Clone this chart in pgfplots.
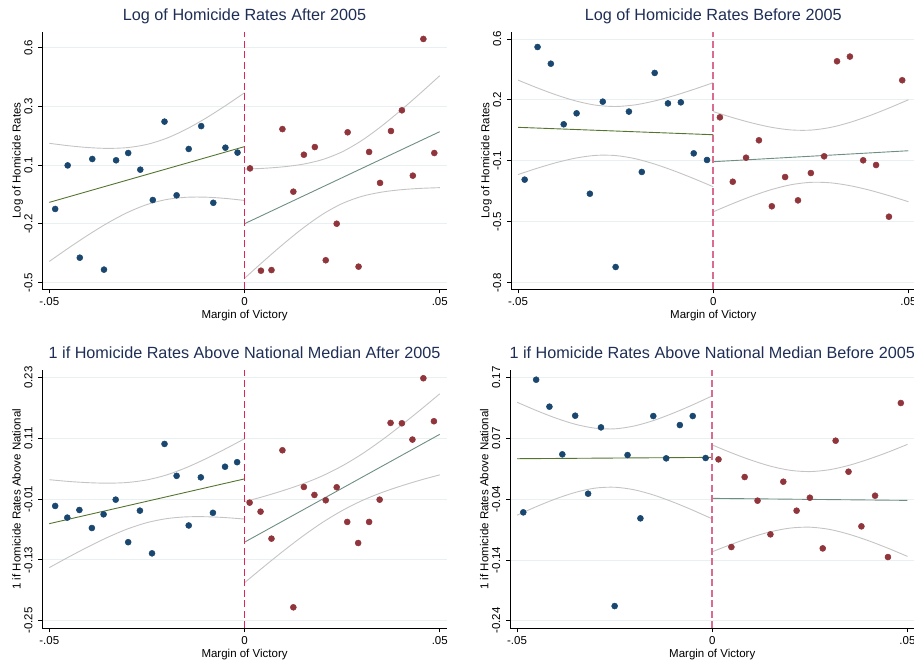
\documentclass[border=0pt]{standalone}
\usepackage{fontspec}
\setmainfont{Liberation Sans}
\usepackage{pgfplots}
\pgfplotsset{compat=1.18}

\definecolor{navy}{RGB}{26,71,111}
\definecolor{maroon}{RGB}{144,53,59}
\definecolor{fgreen}{RGB}{85,117,47}
\definecolor{teal2}{RGB}{110,142,132}
\definecolor{cigray}{RGB}{196,196,196}
\definecolor{gridc}{RGB}{232,240,242}
\definecolor{titlec}{RGB}{30,46,85}
\definecolor{crim}{RGB}{224,36,90}
\definecolor{pinkc}{RGB}{218,108,144}

\pgfplotsset{
 statastyle/.style={
  scale only axis, width=404.5pt,
  xmin=-0.0518, xmax=0.0518,
  scaled x ticks=false, scaled y ticks=false,
  axis x line*=bottom, axis y line*=left,
  axis line style={black, line width=0.9pt},
  tick align=outside, major tick length=4pt,
  tick style={black, line width=0.9pt},
  xtick={-0.05,0,0.05}, xticklabels={-.05,0,.05},
  ymajorgrids, grid style={gridc, line width=0.9pt},
  tick label style={font=\fontsize{11.5}{13}\selectfont, text=black},
  yticklabel style={rotate=90, anchor=south, inner sep=0pt},
  xticklabel style={anchor=north, inner sep=0pt},
  xticklabel shift=4.4pt, yticklabel shift=5.6pt,
  label style={font=\fontsize{11.5}{13}\selectfont},
  xlabel={Margin of Victory},
  xlabel style={at={(axis description cs:0.5,-0.1126)}, anchor=base, inner sep=0pt},
  ylabel style={at={(axis description cs:-0.0534,0.5)}, anchor=base, inner sep=0pt},
  title style={at={(axis description cs:0.5,1.02)}, anchor=base, font=\fontsize{16.2}{18}\selectfont, text=titlec, inner sep=0pt},
  anchor=south west,
 },
 dotL/.style={only marks, mark=*, mark size=3pt, mark options={fill=navy, draw=navy, line width=0.5pt}},
 dotR/.style={only marks, mark=*, mark size=3pt, mark options={fill=maroon, draw=maroon, line width=0.5pt}},
 fitL/.style={fgreen, line width=0.9pt, no marks},
 fitR/.style={teal2, line width=0.9pt, no marks},
 ci/.style={cigray, line width=0.9pt, no marks, smooth},
}

\begin{document}
\begin{tikzpicture}
\useasboundingbox (0pt,0pt) rectangle (914pt,660pt);

% ---------------- Panel 1 ----------------
\begin{axis}[statastyle, at={(42.3pt,370.7pt)}, height=257.6pt,
  ymin=-0.531, ymax=0.675,
  ytick={0.6,0.325,0.05,-0.225,-0.5}, yticklabels={0.6,0.3,0.1,-0.2,-0.5},
  ylabel={Log of Homicide Rates},
  title={Log of Homicide Rates After 2005}]
\addplot[dotL] coordinates {(-0.0485,-0.155) (-0.0453,0.049) (-0.0422,-0.383) (-0.0390,0.079) (-0.0360,-0.439) (-0.0329,0.073) (-0.0298,0.107) (-0.0267,0.029) (-0.0235,-0.113) (-0.0205,0.254) (-0.0174,-0.091) (-0.0143,0.126) (-0.0111,0.233) (-0.0080,-0.126) (-0.0049,0.132) (-0.0018,0.109)};
\addplot[dotR] coordinates {(0.0014,0.035) (0.0042,-0.444) (0.0069,-0.441) (0.0097,0.219) (0.0125,-0.074) (0.0152,0.099) (0.0180,0.135) (0.0208,-0.395) (0.0236,-0.224) (0.0264,0.204) (0.0292,-0.425) (0.0319,0.112) (0.0347,-0.033) (0.0375,0.210) (0.0403,0.307) (0.0431,0.001) (0.0458,0.641) (0.0486,0.107)};
\addplot[ci] coordinates {(-0.050,0.1524) (-0.045,0.1410) (-0.040,0.1325) (-0.035,0.1287) (-0.030,0.1324) (-0.025,0.1472) (-0.020,0.1759) (-0.015,0.2177) (-0.010,0.2692) (-0.005,0.3272) (0,0.3891)};
\addplot[ci] coordinates {(-0.050,-0.4004) (-0.045,-0.3368) (-0.040,-0.2761) (-0.035,-0.2201) (-0.030,-0.1716) (-0.025,-0.1342) (-0.020,-0.1107) (-0.015,-0.1003) (-0.010,-0.0996) (-0.005,-0.1054) (0,-0.1151)};
\addplot[fitL] coordinates {(-0.05,-0.124) (0,0.137)};
\addplot[ci] coordinates {(0,0.0316) (0.005,0.0355) (0.010,0.0425) (0.015,0.0548) (0.020,0.0765) (0.025,0.1126) (0.030,0.1653) (0.035,0.2317) (0.040,0.3066) (0.045,0.3864) (0.050,0.4691)};
\addplot[ci] coordinates {(0,-0.4796) (0.005,-0.3973) (0.010,-0.3181) (0.015,-0.2442) (0.020,-0.1797) (0.025,-0.1296) (0.030,-0.0961) (0.035,-0.0763) (0.040,-0.0650) (0.045,-0.0586) (0.050,-0.0551)};
\addplot[fitR] coordinates {(0,-0.224) (0.05,0.207)};
\addplot[crim, line width=1.6pt, dash pattern=on 7pt off 3.5pt, no marks] coordinates {(0,-0.531) (0,0.675)};
\end{axis}

% ---------------- Panel 2 ----------------
\begin{axis}[statastyle, at={(511.0pt,370.7pt)}, height=257.6pt,
  ymin=-0.838, ymax=0.642,
  ytick={0.6,0.25,-0.1,-0.45,-0.8}, yticklabels={0.6,0.2,-0.1,-0.5,-0.8},
  ylabel={Log of Homicide Rates},
  title={Log of Homicide Rates Before 2005}]
\addplot[dotL] coordinates {(-0.0483,-0.208) (-0.0450,0.554) (-0.0416,0.458) (-0.0383,0.110) (-0.0350,0.173) (-0.0316,-0.289) (-0.0283,0.240) (-0.0250,-0.710) (-0.0216,0.183) (-0.0183,-0.164) (-0.0150,0.405) (-0.0116,0.230) (-0.0083,0.236) (-0.0050,-0.057) (-0.0016,-0.095)};
\addplot[dotR] coordinates {(0.0017,0.150) (0.0050,-0.220) (0.0084,-0.082) (0.0117,0.018) (0.0150,-0.361) (0.0184,-0.193) (0.0217,-0.327) (0.0250,-0.170) (0.0284,-0.074) (0.0317,0.472) (0.0350,0.499) (0.0384,-0.097) (0.0417,-0.124) (0.0450,-0.421) (0.0484,0.363)};
\addplot[ci] coordinates {(-0.050,0.3638) (-0.045,0.3185) (-0.040,0.2771) (-0.035,0.2427) (-0.030,0.2195) (-0.025,0.2122) (-0.020,0.2216) (-0.015,0.2441) (-0.010,0.2748) (-0.005,0.3104) (0,0.3489)};
\addplot[ci] coordinates {(-0.050,-0.1788) (-0.045,-0.1419) (-0.040,-0.1091) (-0.035,-0.0832) (-0.030,-0.0685) (-0.025,-0.0697) (-0.020,-0.0876) (-0.015,-0.1186) (-0.010,-0.1578) (-0.005,-0.2019) (0,-0.2489)};
\addplot[fitL] coordinates {(-0.05,0.0925) (0,0.050)};
\addplot[ci] coordinates {(0,0.1829) (0.005,0.1481) (0.010,0.1171) (0.015,0.0923) (0.020,0.0773) (0.025,0.0765) (0.030,0.0918) (0.035,0.1208) (0.040,0.1591) (0.045,0.2033) (0.050,0.2510)};
\addplot[ci] coordinates {(0,-0.3929) (0.005,-0.3455) (0.010,-0.3019) (0.015,-0.2645) (0.020,-0.2369) (0.025,-0.2235) (0.030,-0.2262) (0.035,-0.2426) (0.040,-0.2683) (0.045,-0.2999) (0.050,-0.3350)};
\addplot[fitR] coordinates {(0,-0.105) (0.05,-0.042)};
\addplot[pinkc, line width=1.6pt, dash pattern=on 7pt off 3.5pt, no marks] coordinates {(0,-0.838) (0,0.642)};
\end{axis}

% ---------------- Panel 3 ----------------
\begin{axis}[statastyle, at={(42.3pt,31.7pt)}, height=258.3pt,
  ymin=-0.265, ymax=0.245,
  ytick={0.23,0.11,-0.01,-0.13,-0.25}, yticklabels={0.23,0.11,-0.01,-0.13,-0.25},
  ylabel={1 if Homicide Rates Above National},
  title={1 if Homicide Rates Above National Median After 2005}]
\addplot[dotL] coordinates {(-0.0485,-0.0235) (-0.0454,-0.0465) (-0.0423,-0.0314) (-0.0391,-0.067) (-0.0361,-0.040) (-0.0330,-0.011) (-0.0298,-0.095) (-0.0268,-0.0327) (-0.0237,-0.117) (-0.0205,0.099) (-0.0174,0.036) (-0.0143,-0.062) (-0.0112,0.033) (-0.0081,-0.037) (-0.0050,0.054) (-0.0019,0.063)};
\addplot[dotR] coordinates {(0.0013,-0.0169) (0.0041,-0.0347) (0.0069,-0.088) (0.0097,0.0865) (0.0125,-0.2236) (0.0152,0.014) (0.0179,-0.0017) (0.0208,-0.0122) (0.0236,0.0135) (0.0263,-0.055) (0.0291,-0.0966) (0.0319,-0.055) (0.0346,-0.011) (0.0374,0.1405) (0.0403,0.1398) (0.0430,0.1076) (0.0458,0.2287) (0.0485,0.1438)};
\addplot[ci] coordinates {(-0.050,0.0284) (-0.045,0.0249) (-0.040,0.0225) (-0.035,0.0215) (-0.030,0.0229) (-0.025,0.0280) (-0.020,0.0377) (-0.015,0.0520) (-0.010,0.0694) (-0.005,0.0888) (0,0.1093)};
\addplot[ci] coordinates {(-0.050,-0.1452) (-0.045,-0.1241) (-0.040,-0.1039) (-0.035,-0.0852) (-0.030,-0.0689) (-0.025,-0.0564) (-0.020,-0.0485) (-0.015,-0.0450) (-0.010,-0.0447) (-0.005,-0.0464) (0,-0.0493)};
\addplot[fitL] coordinates {(-0.05,-0.0584) (0,0.030)};
\addplot[ci] coordinates {(0,-0.0150) (0.005,-0.0045) (0.010,0.0072) (0.015,0.0204) (0.020,0.0362) (0.025,0.0556) (0.030,0.0788) (0.035,0.1056) (0.040,0.1350) (0.045,0.1660) (0.050,0.1980)};
\addplot[ci] coordinates {(0,-0.1750) (0.005,-0.1430) (0.010,-0.1120) (0.015,-0.0826) (0.020,-0.0558) (0.025,-0.0326) (0.030,-0.0132) (0.035,0.0026) (0.040,0.0158) (0.045,0.0275) (0.050,0.0380)};
\addplot[fitR] coordinates {(0,-0.095) (0.05,0.118)};
\addplot[crim, line width=1.6pt, dash pattern=on 7pt off 3.5pt, no marks] coordinates {(0,-0.265) (0,0.245)};
\end{axis}

% ---------------- Panel 4 ----------------
\begin{axis}[statastyle, at={(510.0pt,31.7pt)}, height=258.3pt,
  ymin=-0.2528, ymax=0.183,
  ytick={0.17,0.0675,-0.035,-0.1375,-0.24}, yticklabels={0.17,0.07,-0.04,-0.14,-0.24},
  ylabel={1 if Homicide Rates Above National},
  title={1 if Homicide Rates Above National Median Before 2005}]
\addplot[dotL] coordinates {(-0.0484,-0.0572) (-0.0451,0.1666) (-0.0417,0.1211) (-0.0384,0.0407) (-0.0351,0.1059) (-0.0318,-0.0257) (-0.0285,0.0862) (-0.0250,-0.2153) (-0.0217,0.0395) (-0.0184,-0.0673) (-0.0151,0.1053) (-0.0118,0.0339) (-0.0083,0.0901) (-0.0050,0.1053) (-0.0017,0.0345)};
\addplot[dotR] coordinates {(0.0016,0.0322) (0.0049,-0.1157) (0.0083,0.0024) (0.0116,-0.0375) (0.0149,-0.0943) (0.0182,-0.0055) (0.0216,-0.0544) (0.0250,-0.0325) (0.0283,-0.1180) (0.0316,0.0637) (0.0349,0.0114) (0.0382,-0.0808) (0.0417,-0.0291) (0.0450,-0.1326) (0.0483,0.1273)};
\addplot[ci] coordinates {(-0.050,0.1286) (-0.045,0.1145) (-0.040,0.1017) (-0.035,0.0913) (-0.030,0.0848) (-0.025,0.0837) (-0.020,0.0885) (-0.015,0.0978) (-0.010,0.1102) (-0.005,0.1242) (0,0.1394)};
\addplot[ci] coordinates {(-0.050,-0.0620) (-0.045,-0.0474) (-0.040,-0.0342) (-0.035,-0.0234) (-0.030,-0.0163) (-0.025,-0.0148) (-0.020,-0.0191) (-0.015,-0.0280) (-0.010,-0.0399) (-0.005,-0.0535) (0,-0.0682)};
\addplot[fitL] coordinates {(-0.05,0.0333) (0,0.0356)};
\addplot[ci] coordinates {(0,0.0565) (0.005,0.0430) (0.010,0.0308) (0.015,0.0206) (0.020,0.0137) (0.025,0.0116) (0.030,0.0147) (0.035,0.0221) (0.040,0.0324) (0.045,0.0443) (0.050,0.0575)};
\addplot[ci] coordinates {(0,-0.1237) (0.005,-0.1109) (0.010,-0.0993) (0.015,-0.0898) (0.020,-0.0837) (0.025,-0.0822) (0.030,-0.0859) (0.035,-0.0941) (0.040,-0.1050) (0.045,-0.1177) (0.050,-0.1315)};
\addplot[fitR] coordinates {(0,-0.0336) (0.05,-0.037)};
\addplot[pinkc, line width=1.6pt, dash pattern=on 7pt off 3.5pt, no marks] coordinates {(0,-0.2528) (0,0.183)};
\end{axis}
\end{tikzpicture}
\end{document}
